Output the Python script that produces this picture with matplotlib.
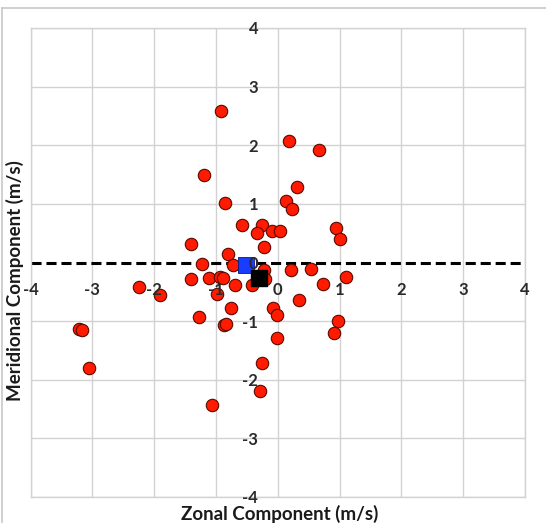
import numpy as np
import matplotlib
matplotlib.use("Agg")
import matplotlib.pyplot as plt
from matplotlib.lines import Line2D

# individual events (zonal, meridional), m/s
zonal = [-0.92, 0.18, 0.66, -1.19, 0.31, 0.14, 0.23, -0.86, -0.58, -0.26,
         -0.33, -0.10, 0.04, 0.95, 1.01, -1.41, -0.22, -0.81, -1.22, -0.72,
         0.21, 0.54, -0.23, -1.41, -1.12, -0.93, -0.89, -0.69, -0.42, -0.20,
         0.73, 1.11, -1.91, -2.24, -0.99, 0.34, -0.76, -0.08, -0.01, -1.28,
         -0.87, -0.83, 0.98, 0.91, -0.01, -0.26, -0.29, -1.07, -3.22, -3.17,
         -3.06]
meridional = [2.58, 2.08, 1.92, 1.50, 1.29, 1.05, 0.92, 1.02, 0.64, 0.64,
              0.51, 0.53, 0.53, 0.59, 0.40, 0.31, 0.26, 0.14, -0.02, -0.04,
              -0.12, -0.11, -0.12, -0.28, -0.27, -0.24, -0.27, -0.39, -0.39, -0.28,
              -0.37, -0.25, -0.56, -0.42, -0.54, -0.64, -0.78, -0.77, -0.90, -0.93,
              -1.06, -1.05, -1.00, -1.20, -1.29, -1.71, -2.19, -2.43, -1.13, -1.15,
              -1.80]

# mean values
blue_mean = (-0.51, -0.04)
black_mean = (-0.31, -0.26)

ticks = [-4, -3, -2, -1, 0, 1, 2, 3, 4]

W, H = 546, 523
fig = plt.figure(figsize=(W / 100, H / 100), dpi=100)
ax = fig.add_axes([30.5 / W, 1 - 497 / H, 494.5 / W, 469 / H])

ax.set_xlim(-4, 4)
ax.set_ylim(-4, 4)
for t in ticks:
    ax.axvline(t, color="#d2d2d2", lw=1.0, zorder=1)
    if t != 0:
        ax.axhline(t, color="#d2d2d2", lw=1.0, zorder=1)
for s in ax.spines.values():
    s.set_color("#d2d2d2")
    s.set_linewidth(1.0)
ax.set_xticks([])
ax.set_yticks([])

ax.plot([-4, 4], [0, 0], color="black", lw=2.2, linestyle=(0, (3.3, 1.6)), zorder=2)

ax.scatter(zonal, meridional, s=80, c="#ff1a00", edgecolors="#5a0a00",
           linewidths=0.8, zorder=4)
ax.scatter(*blue_mean, s=140, marker="s", c="#1a3cff", edgecolors="#0a1a80",
           linewidths=0.6, zorder=5)
ax.scatter(*black_mean, s=140, marker="s", c="black", zorder=6)

lab = dict(fontsize=12, fontweight="bold", color="#2a2a2a", family="Lato")
for t in ticks:
    ax.annotate(str(t), (t, 0), xytext=(0, -20), textcoords="offset points",
                ha="center", va="center", zorder=7, **lab)
    ax.annotate(str(t), (0, t), xytext=(-14, -1), textcoords="offset points",
                ha="right", va="center", zorder=7, **lab)

fig.text(280 / W, 1 - 514 / H, "Zonal Component (m/s)", ha="center", va="center",
         fontsize=13.5, fontweight="bold", color="#1a1a1a", family="Lato")
fig.text(15 / W, 1 - 281 / H, "Meridional Component (m/s)", ha="center", va="center",
         rotation=90, fontsize=13.5, fontweight="bold", color="#1a1a1a", family="Lato")

# outer frame, cut off at right and bottom
fig.add_artist(Line2D([2 / W, 1], [1 - 7.5 / H, 1 - 7.5 / H], color="#c8c8c8", lw=1.2))
fig.add_artist(Line2D([2 / W, 2 / W], [0, 1 - 7.5 / H], color="#c8c8c8", lw=1.2))

fig.savefig("out.png", dpi=100)
